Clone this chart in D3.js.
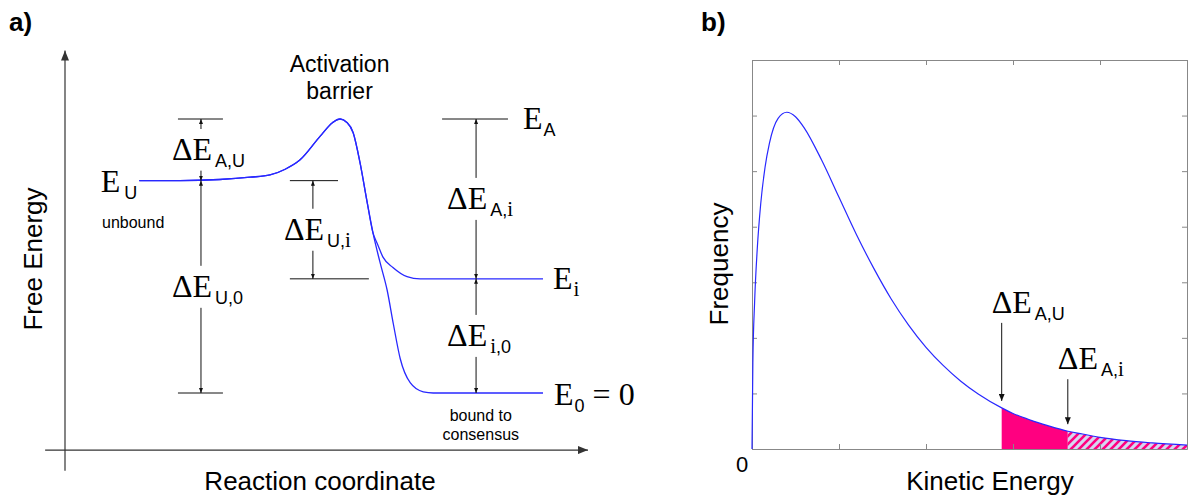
<!DOCTYPE html>
<html><head><meta charset="utf-8">
<script src="https://cdn.jsdelivr.net/npm/d3@7"></script>
<style>body{margin:0;background:#fff}svg{display:block}</style>
</head><body><svg id="c" width="1189" height="499"></svg>
<script>
// ---------- Panel a data: free-energy profile ----------
const levelNames  = ["A", "U", "i", "0"];
const levelValues = [2.40, 1.86, 1.00, 0.00];           // E_A, E_U, E_i, E_0
const barrierX = [1.42, 2.20, 2.96, 3.54, 3.92, 4.21, 4.49, 4.88, 5.12, 5.26, 5.39, 5.51, 5.64, 5.77, 5.89];
const barrierE = [1.86, 1.86, 1.87, 1.89, 1.91, 1.96, 2.04, 2.25, 2.37, 2.40, 2.37, 2.28, 2.02, 1.69, 1.40];
const branchIX = [5.97, 6.08, 6.27, 6.54, 6.79, 9.14];
const branchIE = [1.31, 1.19, 1.10, 1.02, 1.00, 1.00];
const branch0X = [6.02, 6.16, 6.28, 6.41, 6.60, 6.85, 7.04, 9.14];
const branch0E = [1.15, 0.90, 0.60, 0.30, 0.09, 0.01, 0.00, 0.00];

// ---------- Panel b data: kinetic energy distribution ----------
const kineticE  = [0, 0.01, 0.03, 0.06, 0.1, 0.15, 0.2, 0.3, 0.4, 0.5, 0.6, 0.8, 1.0, 1.2, 1.4, 1.6, 1.8, 2.0, 2.2, 2.4, 2.6, 2.87, 3.0, 3.2, 3.4, 3.63, 3.8, 4.0, 4.3, 4.6, 5.0];
const frequency = [0, 1.56, 2.64, 3.59, 4.41, 5.07, 5.50, 5.95, 6.06, 5.98, 5.78, 5.20, 4.53, 3.86, 3.25, 2.70, 2.23, 1.83, 1.50, 1.22, 0.99, 0.74, 0.64, 0.52, 0.42, 0.32, 0.27, 0.21, 0.15, 0.11, 0.07];
const thresholdAU = 2.87;
const thresholdAi = 3.63;
const xTicksB = [0, 1, 2, 3, 4, 5];
const yTicksB = [0, 1, 2, 3, 4, 5, 6, 7];

const SERIF = "'Liberation Serif','Times New Roman',serif";
const SANS = "'Liberation Sans',Arial,sans-serif";
const BLUE = "#2828ff";
const svg = d3.select("#c");
const L = Object.fromEntries(levelNames.map((n, i) => [n, levelValues[i]]));

// markers
const defs = svg.append("defs");
function marker(id, w, h, color) {
  defs.append("marker").attr("id", id).attr("viewBox", `0 0 ${w} ${h}`)
    .attr("refX", w).attr("refY", h / 2).attr("markerWidth", w).attr("markerHeight", h)
    .attr("markerUnits", "userSpaceOnUse").attr("orient", "auto")
    .append("path").attr("d", `M0,0L${w},${h / 2}L0,${h}Z`).attr("fill", color);
}
marker("axArrow", 10, 8, "#333");
marker("dimArrow", 5, 4, "#111");
marker("bArrow", 7, 6, "#111");
const pat = defs.append("pattern").attr("id", "hatch").attr("patternUnits", "userSpaceOnUse")
  .attr("width", 8).attr("height", 8);
pat.append("rect").attr("width", 8).attr("height", 8).attr("fill", "#d6d6f2");
pat.append("path").attr("d", "M-2,2L2,-2M0,8L8,0M6,10L10,6").attr("stroke", "#ff0080").attr("stroke-width", 2.6);

function rich(g, x, y, parts, anchor) {
  const t = g.append("text").attr("x", x).attr("y", y).attr("fill", "#000");
  if (anchor) t.attr("text-anchor", anchor);
  parts.forEach(p => {
    const s = t.append("tspan").text(p.t)
      .attr("font-family", p.f === "s" ? SANS : SERIF).attr("font-size", p.z);
    if (p.dx) s.attr("dx", p.dx);
    if (p.dy) s.attr("dy", p.dy);
  });
  return t;
}

// ================= Panel a =================
const xA = d3.scaleLinear([0, 10], [65, 588]);
const yA = d3.scaleLinear([0, 2.4], [393, 119]);
const ga = svg.append("g");

ga.append("line").attr("x1", xA(0)).attr("x2", xA(0)).attr("y1", yA(-0.68)).attr("y2", yA(3.0))
  .attr("stroke", "#333").attr("stroke-width", 1.2).attr("marker-end", "url(#axArrow)");
ga.append("line").attr("x1", xA(-0.38)).attr("x2", xA(10)).attr("y1", yA(-0.5)).attr("y2", yA(-0.5))
  .attr("stroke", "#333").attr("stroke-width", 1.2).attr("marker-end", "url(#axArrow)");

const lineA = d3.line().x(d => xA(d[0])).y(d => yA(d[1])).curve(d3.curveMonotoneX);
const shared = barrierX.map((x, i) => [x, barrierE[i]]);
[[branchIX, branchIE], [branch0X, branch0E]].forEach(([xs, es]) => {
  const full = shared.concat(xs.map((x, i) => [x, es[i]]));
  ga.append("path").attr("d", lineA(full))
    .attr("fill", "none").attr("stroke", BLUE).attr("stroke-width", 1.3);
});

function bar(x1, x2, e) {
  ga.append("line").attr("x1", xA(x1)).attr("x2", xA(x2)).attr("y1", yA(e)).attr("y2", yA(e))
    .attr("stroke", "#111").attr("stroke-width", 1);
}
bar(2.16, 3.02, L.A);
bar(2.16, 3.02, L["0"]);
bar(4.30, 5.22, L.U);
bar(4.30, 5.81, L.i);
bar(7.21, 8.47, L.A);

function dim(xu, eTop, eBot, sub) {
  const x = xA(xu), yt = yA(eTop), yb = yA(eBot);
  const base = (yt + yb) / 2 + 10;
  ga.append("line").attr("x1", x).attr("x2", x).attr("y1", Math.max(base - 31, yt + 10)).attr("y2", yt)
    .attr("stroke", "#111").attr("stroke-width", 1).attr("marker-end", "url(#dimArrow)");
  ga.append("line").attr("x1", x).attr("x2", x).attr("y1", Math.min(base + 11, yb - 10)).attr("y2", yb)
    .attr("stroke", "#111").attr("stroke-width", 1).attr("marker-end", "url(#dimArrow)");
  rich(ga, x - 29, base, [{t: "ΔE", f: "r", z: 32}].concat(sub));
}
dim(2.60, L.A, L.U, [{t: "A,U", f: "s", z: 18, dx: 3, dy: 7}]);
dim(2.60, L.U, L["0"], [{t: "U,0", f: "s", z: 18, dx: 3, dy: 7}]);
dim(4.74, L.U, L.i, [{t: "U,", f: "s", z: 18, dx: 3, dy: 7}, {t: "i", f: "r", z: 21}]);
dim(7.86, L.A, L.i, [{t: "A,", f: "s", z: 18, dx: 3, dy: 7}, {t: "i", f: "r", z: 21}]);
dim(7.86, L.i, L["0"], [{t: "i", f: "r", z: 21, dx: 3, dy: 7}, {t: ",0", f: "s", z: 18}]);

// level labels
rich(ga, xA(8.47) + 15, yA(L.A) + 10, [{t: "E", f: "r", z: 32}, {t: "A", f: "s", z: 18, dx: 1, dy: 7}]);
rich(ga, xA(1.42) - 2, yA(L.U) + 11, [{t: "E", f: "r", z: 32}, {t: "U", f: "s", z: 18, dx: 4, dy: 7}], "end");
rich(ga, xA(9.14) + 10, yA(L.i) + 10, [{t: "E", f: "r", z: 32}, {t: "i", f: "r", z: 21, dx: 1, dy: 7}]);
rich(ga, xA(9.14) + 11, yA(L["0"]) + 12, [{t: "E", f: "r", z: 32}, {t: "0", f: "s", z: 18, dx: 1, dy: 7}, {t: " = 0", f: "r", z: 32, dy: -7}]);

const smallTxt = (x, y, s, anchor) => ga.append("text").attr("x", x).attr("y", y).text(s)
  .attr("font-family", SANS).attr("font-size", 16).attr("text-anchor", anchor || "start");
smallTxt(102, yA(L.U) + 47, "unbound");
smallTxt(xA(7.95), yA(0) + 28, "bound to", "middle");
smallTxt(xA(7.95), yA(0) + 47, "consensus", "middle");

ga.append("text").attr("x", xA(5.25)).attr("y", 72).attr("text-anchor", "middle")
  .attr("font-family", SANS).attr("font-size", 23).text("Activation");
ga.append("text").attr("x", xA(5.25)).attr("y", 99).attr("text-anchor", "middle")
  .attr("font-family", SANS).attr("font-size", 23).text("barrier");

ga.append("text").attr("transform", "translate(42,259) rotate(-90)").attr("text-anchor", "middle")
  .attr("font-family", SANS).attr("font-size", 26).text("Free Energy");
ga.append("text").attr("x", 320).attr("y", 490).attr("text-anchor", "middle")
  .attr("font-family", SANS).attr("font-size", 26).text("Reaction coordinate");
svg.append("text").attr("x", 9).attr("y", 31).attr("font-family", SANS).attr("font-weight", "bold")
  .attr("font-size", 26).text("a)");

// ================= Panel b =================
const xB = d3.scaleLinear([0, 5], [752, 1187]);
const yB = d3.scaleLinear([0, 7], [449, 60]);
const gb = svg.append("g");
const pts = kineticE.map((k, i) => [k, frequency[i]]);
const area = d3.area().x(d => xB(d[0])).y0(yB(0)).y1(d => yB(d[1])).curve(d3.curveMonotoneX);
gb.append("path").attr("d", area(pts.filter(d => d[0] >= thresholdAU && d[0] <= thresholdAi)))
  .attr("fill", "#ff0080");
gb.append("path").attr("d", area(pts.filter(d => d[0] >= thresholdAi)))
  .attr("fill", "url(#hatch)");

const axStyle = s => s.call(g => g.selectAll("path,line").attr("stroke", "#888").attr("stroke-width", 1))
  .call(g => g.selectAll("text").remove());
gb.append("g").attr("transform", `translate(0,${yB(0)})`)
  .call(d3.axisBottom(xB).tickValues(xTicksB).tickSize(-5).tickSizeOuter(0)).call(axStyle);
gb.append("g").attr("transform", `translate(0,${yB(7)})`)
  .call(d3.axisTop(xB).tickValues(xTicksB).tickSize(-5).tickSizeOuter(0)).call(axStyle);
gb.append("g").attr("transform", `translate(${xB(0)},0)`)
  .call(d3.axisLeft(yB).tickValues(yTicksB).tickSize(-5).tickSizeOuter(0)).call(axStyle);
gb.append("g").attr("transform", `translate(${xB(5)},0)`)
  .call(d3.axisRight(yB).tickValues(yTicksB).tickSize(-5).tickSizeOuter(0)).call(axStyle);

gb.append("path").attr("d", d3.line().x(d => xB(d[0])).y(d => yB(d[1])).curve(d3.curveMonotoneX)(pts))
  .attr("fill", "none").attr("stroke", BLUE).attr("stroke-width", 1.2);

gb.append("text").attr("x", xB(0) - 10).attr("y", 472).attr("text-anchor", "middle")
  .attr("font-family", SANS).attr("font-size", 22).text(xTicksB[0]);

function bArrow(k, len, sub) {
  const yv = frequency[kineticE.indexOf(k)];
  const x = xB(k), yEnd = yB(yv) - 7, yStart = yEnd - len;
  gb.append("line").attr("x1", x).attr("x2", x).attr("y1", yStart).attr("y2", yEnd)
    .attr("stroke", "#111").attr("stroke-width", 1).attr("marker-end", "url(#bArrow)");
  rich(gb, x - 10, yStart - 10, [{t: "ΔE", f: "r", z: 32}].concat(sub));
}
bArrow(thresholdAU, 78, [{t: "A,U", f: "s", z: 18, dx: 3, dy: 7}]);
bArrow(thresholdAi, 45, [{t: "A,", f: "s", z: 18, dx: 3, dy: 7}, {t: "i", f: "r", z: 21}]);

gb.append("text").attr("transform", "translate(728,264) rotate(-90)").attr("text-anchor", "middle")
  .attr("font-family", SANS).attr("font-size", 26).text("Frequency");
gb.append("text").attr("x", 990).attr("y", 490).attr("text-anchor", "middle")
  .attr("font-family", SANS).attr("font-size", 26).text("Kinetic Energy");
svg.append("text").attr("x", 701).attr("y", 31).attr("font-family", SANS).attr("font-weight", "bold")
  .attr("font-size", 26).text("b)");
</script></body></html>
